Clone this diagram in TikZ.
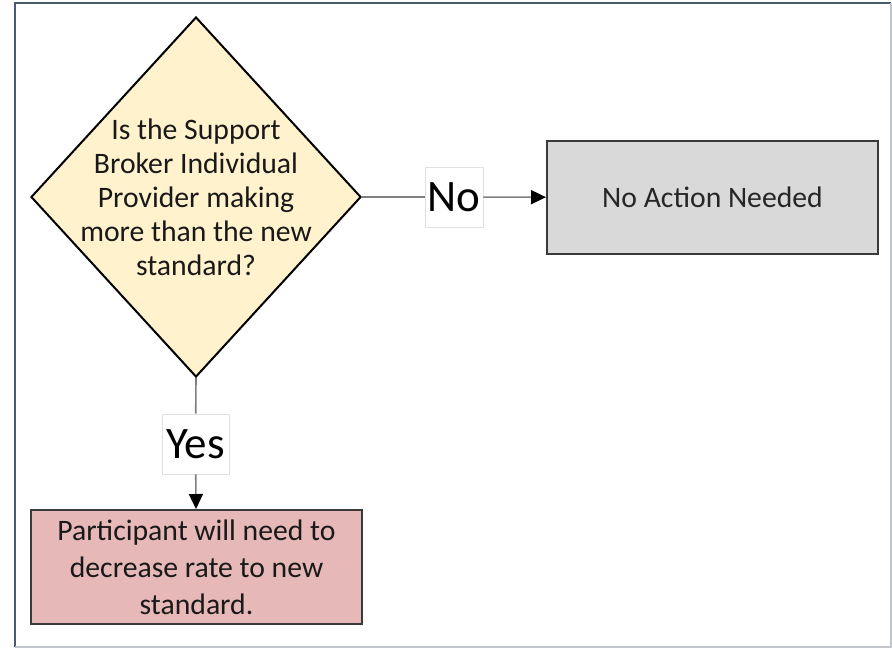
\documentclass[tikz,border=0pt]{standalone}
\usepackage{fontspec}
\setmainfont{Carlito}
\usetikzlibrary{shapes.geometric, arrows.meta, positioning}
\definecolor{crema}{HTML}{FFF2CC}
\definecolor{grisfondo}{HTML}{D9D9D9}
\definecolor{rosa}{HTML}{E6B8B7}
\definecolor{lineagris}{HTML}{7F7F7F}
\definecolor{bordeosc}{HTML}{3A3A3A}
\definecolor{marco}{HTML}{4A5A70}
\definecolor{marcoclaro}{HTML}{C2C6CC}
\tikzset{
  decision/.style={diamond, draw=black, fill=crema, line width=1pt,
                   minimum width=165pt, minimum height=180pt, inner sep=0pt},
  textodec/.style={align=center, text=black!90, font=\fontsize{14.85}{17}\selectfont},
  accion/.style={rectangle, draw=bordeosc, fill=grisfondo, line width=1pt,
                 minimum width=165.5pt, minimum height=56.5pt, text=black!85,
                 font=\fontsize{14.85}{17}\selectfont},
  cambio/.style={rectangle, draw=bordeosc, fill=rosa, line width=1pt,
                 minimum width=165.5pt, minimum height=57pt, align=center, text=black!90,
                 font=\fontsize{14.85}{18.5}\selectfont},
  etiqueta/.style={rectangle, draw=black!12, fill=white, line width=0.3pt, inner sep=0pt,
                   minimum height=30pt, font=\fontsize{22.5}{24}\selectfont},
  linea/.style={draw=lineagris, line width=0.8pt},
  arrow/.style={linea, -{Triangle[length=7.5pt, width=7pt, color=black]}}
}
\begin{document}
\begin{tikzpicture}[x=0.5pt, y=-0.5pt]
  \useasboundingbox (0,0) rectangle (892,649);
  % marco
  \draw [marco, line width=1pt] (15,647) -- (15,3) -- (891,3);
  \draw [marcoclaro, line width=1pt] (891,3) -- (891,647) -- (15,647);
  % nodos
  \node (pregunta) [decision] at (196,197) {};
  \node (preguntatxt) [textodec] at (pregunta.center) {Is the Support\\Broker Individual\\Provider making\\more than the new\\standard?};
  \node (sinaccion) [accion] at (712.5,197.5) {No Action Needed};
  \node (bajatarifa) [cambio] at (196.5,567) {Participant will need to\\decrease rate to new\\standard.};
  \node (lblno) [etiqueta, minimum width=29pt] at (454,197) {No};
  \node (lblsi) [etiqueta, minimum width=33.5pt] at (195.5,444) {Yes};
  % conectores
  \draw [linea] (pregunta.east) -- (lblno);
  \draw [arrow] (lblno) -- (sinaccion);
  \draw [linea] (pregunta.south) -- (lblsi);
  \draw [arrow] (lblsi) -- (bajatarifa);
\end{tikzpicture}
\end{document}
